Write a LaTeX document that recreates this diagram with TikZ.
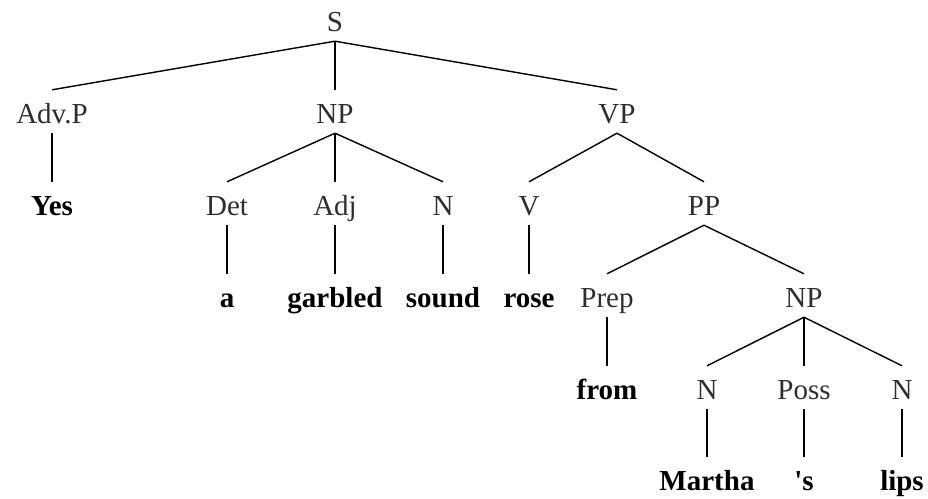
\documentclass[tikz,border=0pt]{standalone}
\usepackage{fontspec}
\setmainfont{Liberation Serif}[Ligatures=TeXOff]
\begin{document}
\begin{tikzpicture}[x=1pt,y=-1pt,
  cat/.style={anchor=base,inner sep=0pt,text height=33pt,text depth=10pt,text=black!82,font=\fontsize{29}{31}\selectfont},
  leaf/.style={cat,text=black,font=\fontsize{29}{31}\selectfont\bfseries},
  edge/.style={line width=1.4pt,black}]
\useasboundingbox (0,0) rectangle (928,498);
% level 0
\node[cat] (S) at (335,31) {S};
% level 1
\node[cat] (advp) at (52,123) {Adv.P};
\node[cat] (np1) at (335,123) {NP};
\node[cat] (vp) at (617,123) {VP};
% level 2
\node[leaf] (yes) at (52,215) {Yes};
\node[cat] (det) at (227,215) {Det};
\node[cat] (adj) at (335,215) {Adj};
\node[cat] (n1) at (443,215) {N};
\node[cat] (v) at (529,215) {V};
\node[cat] (pp) at (704,215) {PP};
% level 3
\node[leaf] (a) at (227,307) {a};
\node[leaf] (garbled) at (335,307) {garbled};
\node[leaf] (sound) at (443,307) {sound};
\node[leaf] (rose) at (529,307) {rose};
\node[cat] (prep) at (607,307) {Prep};
\node[cat] (np2) at (804,307) {NP};
% level 4
\node[leaf] (from) at (607,399) {from};
\node[cat] (n2) at (707,399) {N};
\node[cat] (poss) at (804,399) {Poss};
\node[cat] (n3) at (902,399) {N};
% level 5
\node[leaf] (martha) at (707,490) {Martha};
\node[leaf] (s) at (804,490) {'s};
\node[leaf] (lips) at (902,490) {lips};
% edges
\draw[edge] (S.south) -- (advp.north);
\draw[edge] (S.south) -- (np1.north);
\draw[edge] (S.south) -- (vp.north);
\draw[edge] (advp.south) -- (yes.north);
\draw[edge] (np1.south) -- (det.north);
\draw[edge] (np1.south) -- (adj.north);
\draw[edge] (np1.south) -- (n1.north);
\draw[edge] (vp.south) -- (v.north);
\draw[edge] (vp.south) -- (pp.north);
\draw[edge] (det.south) -- (a.north);
\draw[edge] (adj.south) -- (garbled.north);
\draw[edge] (n1.south) -- (sound.north);
\draw[edge] (v.south) -- (rose.north);
\draw[edge] (pp.south) -- (prep.north);
\draw[edge] (pp.south) -- (np2.north);
\draw[edge] (prep.south) -- (from.north);
\draw[edge] (np2.south) -- (n2.north);
\draw[edge] (np2.south) -- (poss.north);
\draw[edge] (np2.south) -- (n3.north);
\draw[edge] (n2.south) -- (martha.north);
\draw[edge] (poss.south) -- (s.north);
\draw[edge] (n3.south) -- (lips.north);
\end{tikzpicture}
\end{document}
